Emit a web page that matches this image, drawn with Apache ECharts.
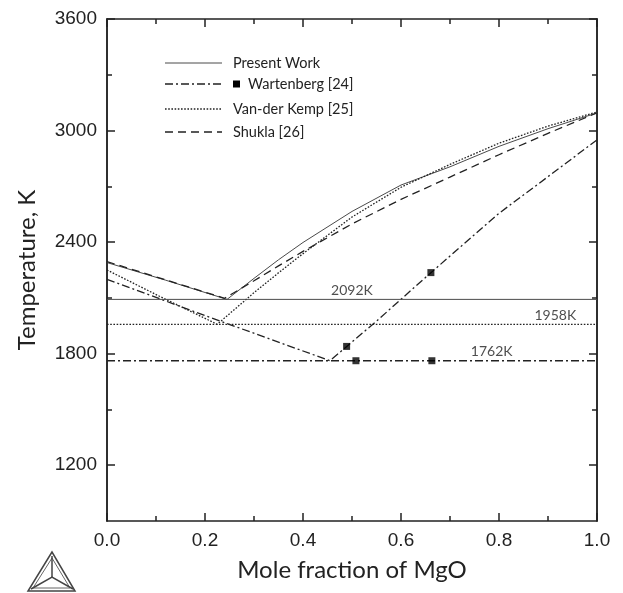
<!DOCTYPE html>
<html>
<head>
<meta charset="utf-8">
<script src="https://cdn.jsdelivr.net/npm/echarts@6/dist/echarts.min.js"></script>
<style>
html,body{margin:0;padding:0;background:#fff;}
#chart{width:623px;height:593px;}
</style>
</head>
<body>
<div id="chart"></div>
<script>
// ---- data ----
const presentX = [0, 0.12, 0.245, 0.3, 0.35, 0.4, 0.5, 0.6, 0.7, 0.8, 0.9, 1.0];
const presentT = [2290, 2195, 2092, 2205, 2305, 2398, 2565, 2707, 2805, 2915, 3010, 3095];

const wartX = [0, 0.2, 0.455, 0.55, 0.65, 0.75, 0.8, 0.9, 1.0];
const wartT = [2200, 2005, 1762, 1975, 2210, 2440, 2555, 2752, 2950];

const wartPtsX = [0.489, 0.661, 0.508, 0.663];
const wartPtsT = [1839, 2236, 1762, 1762];

const kempX = [0, 0.11, 0.225, 0.3, 0.35, 0.4, 0.5, 0.6, 0.7, 0.8, 0.9, 1.0];
const kempT = [2250, 2105, 1958, 2128, 2235, 2338, 2535, 2695, 2818, 2932, 3024, 3100];

const shuklaX = [0, 0.12, 0.24, 0.3, 0.35, 0.4, 0.5, 0.6, 0.7, 0.8, 0.9, 1.0];
const shuklaT = [2295, 2197, 2098, 2192, 2272, 2350, 2498, 2630, 2750, 2870, 2985, 3095];

const eutecticT = [2092, 1958, 1762];
const eutecticLabels = ['2092K', '1958K', '1762K'];
const eutecticLabelX = [0.5, 0.915, 0.785];

const yTicksMajor = [1200, 1800, 2400, 3000, 3600];
const yTicksMinor = [1500, 2100, 2700, 3300];

const legendNames = ['Present Work', 'Wartenberg [24]', 'Van-der Kemp [25]', 'Shukla [26]'];
const xTitle = 'Mole fraction of MgO';
const yTitle = 'Temperature, K';

// ---- styles ----
const INK = '#222';
const DASHDOT = [8, 3, 2, 3];
const DOTTED = [1.6, 1.6];
const DASHED = [8, 5];
const styles = [
  {color: '#4a4a4a', width: 1, type: 'solid'},
  {color: INK, width: 1.3, type: DASHDOT},
  {color: INK, width: 1.3, type: DOTTED},
  {color: INK, width: 1.3, type: DASHED}
];

function zip(xs, ys) { return xs.map((x, i) => [x, ys[i]]); }

const chart = echarts.init(document.getElementById('chart'), null, {renderer: 'canvas'});

const GRID = {left: 107, right: 26, top: 19, bottom: 72};
const tickFont = {fontFamily: 'Liberation Sans, Arial, sans-serif', fontSize: 19, color: INK};
const axisLine = {show: true, lineStyle: {color: INK, width: 1.5}};

function xAxisDef(pos, labels) {
  return {
    type: 'value', min: 0, max: 1, interval: 0.2, position: pos,
    axisLine: axisLine,
    axisTick: {show: true, inside: true, length: 8, lineStyle: {color: INK, width: 1.5}},
    minorTick: {show: true, splitNumber: 2, length: 5, lineStyle: {color: INK, width: 1.5}},
    splitLine: {show: false}, minorSplitLine: {show: false},
    axisLabel: labels ? Object.assign({show: true, margin: 10, formatter: v => v.toFixed(1)}, tickFont) : {show: false},
    name: labels ? xTitle : '',
    nameLocation: 'middle', nameGap: 37,
    nameTextStyle: {fontFamily: 'Lato, sans-serif', fontSize: 24, color: INK}
  };
}
function yAxisDef(pos, ticks, len, labels) {
  return {
    type: 'value', min: 900, max: 3600, position: pos,
    axisLine: axisLine,
    axisTick: {show: true, inside: true, length: len, customValues: ticks, lineStyle: {color: INK, width: 1.5}},
    splitLine: {show: false},
    axisLabel: labels ? Object.assign({show: true, margin: 10, customValues: ticks, formatter: v => String(v)}, tickFont) : {show: false}
  };
}

const series = [];
function lineSeries(name, xs, ys, st) {
  series.push({
    name: name, type: 'line', data: zip(xs, ys), showSymbol: false, symbol: 'none',
    lineStyle: {color: st.color, width: st.width, type: st.type}, silent: true, animation: false, z: 3
  });
}
lineSeries(legendNames[0], presentX, presentT, styles[0]);
lineSeries(legendNames[1], wartX, wartT, styles[1]);
lineSeries(legendNames[2], kempX, kempT, styles[2]);
lineSeries(legendNames[3], shuklaX, shuklaT, styles[3]);

// eutectic horizontal lines
const eutStyles = [styles[0], styles[2], styles[1]];
eutecticT.forEach((t, i) => {
  series.push({
    type: 'line', data: [[0, t], [1, t]], symbol: 'none', showSymbol: false, silent: true, animation: false,
    lineStyle: {color: eutStyles[i].color, width: eutStyles[i].width, type: eutStyles[i].type}
  });
  series.push({
    type: 'scatter', data: [[eutecticLabelX[i], t]], symbolSize: 0, silent: true, animation: false,
    label: {show: true, position: 'top', distance: 2, formatter: eutecticLabels[i],
      fontFamily: 'Lato, sans-serif', fontSize: 14, color: INK}
  });
});

// Wartenberg experimental points
series.push({
  type: 'scatter', data: zip(wartPtsX, wartPtsT), symbol: 'rect', symbolSize: 7,
  itemStyle: {color: '#000'}, silent: true, animation: false, z: 5
});

// ---- legend (drawn) ----
const legendRowsY = [63, 84, 109, 132];
const graphics = [];
legendNames.forEach((n, i) => {
  const y = legendRowsY[i];
  const st = styles[i];
  graphics.push({type: 'line', shape: {x1: 165, y1: y, x2: 222, y2: y},
    style: {stroke: st.color, lineWidth: st.width, lineDash: Array.isArray(st.type) ? st.type : null}});
  let tx = 233;
  if (i === 1) {
    graphics.push({type: 'rect', shape: {x: 233, y: y - 3.5, width: 7, height: 7}, style: {fill: '#000'}});
    tx = 248;
  }
  graphics.push({type: 'text', x: tx, y: y, style: {text: n, font: '14.5px Lato, sans-serif', fill: INK, verticalAlign: 'middle'}});
});

// y axis title
graphics.push({type: 'text', x: 27, y: 270, rotation: Math.PI / 2,
  style: {text: yTitle, font: '24px Lato, sans-serif', fill: INK, align: 'center', verticalAlign: 'middle'}});

// logo (Thermo-Calc like triangle)
graphics.push({type: 'polygon', shape: {points: [[52, 552], [28, 591], [75, 591]]}, style: {fill: 'none', stroke: '#444', lineWidth: 1.5}});
graphics.push({type: 'polygon', shape: {points: [[52, 558], [33, 588], [70, 588]]}, style: {fill: 'none', stroke: '#666', lineWidth: 1}});
graphics.push({type: 'polyline', shape: {points: [[52, 556], [52, 577]]}, style: {stroke: '#444', lineWidth: 1.5}});
graphics.push({type: 'polyline', shape: {points: [[31, 589], [52, 577], [73, 589]]}, style: {stroke: '#444', lineWidth: 1.5, fill: 'none'}});

chart.setOption({
  animation: false,
  backgroundColor: '#fff',
  grid: GRID,
  xAxis: [xAxisDef('bottom', true), xAxisDef('top', false)],
  yAxis: [
    yAxisDef('left', yTicksMajor, 8, true),
    yAxisDef('left', yTicksMinor, 5, false),
    yAxisDef('right', yTicksMajor, 8, false),
    yAxisDef('right', yTicksMinor, 5, false)
  ],
  series: series,
  graphic: graphics
});
</script>
</body>
</html>
